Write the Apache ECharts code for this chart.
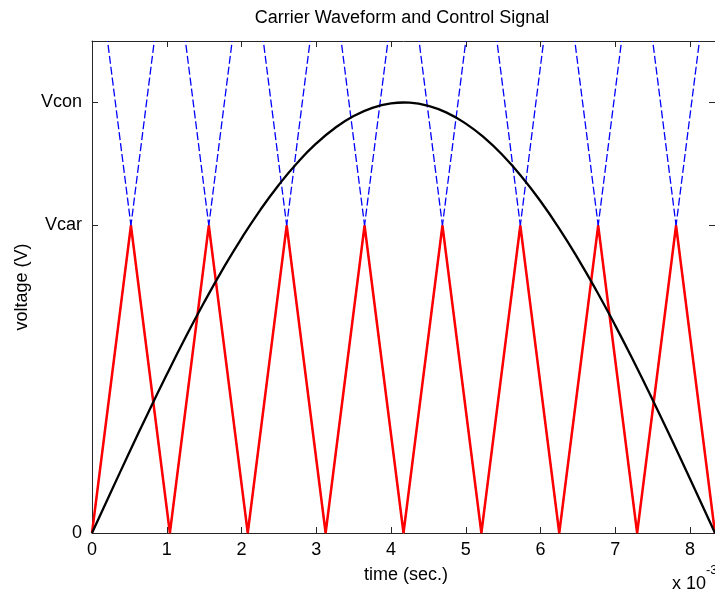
<!DOCTYPE html>
<html>
<head>
<meta charset="utf-8">
<script src="https://cdn.jsdelivr.net/npm/echarts@6/dist/echarts.min.js"></script>
<style>
html,body{margin:0;padding:0;background:#fff;}
#chart{width:715px;height:595px;}
</style>
</head>
<body>
<div id="chart"></div>
<script>
// ---- data (time in ms, i.e. x 10^-3 s) ----
const xTickValues = [0, 1, 2, 3, 4, 5, 6, 7, 8];
const yTickValues = [0, 5, 7];
const yTickLabels = ['0', 'Vcar', 'Vcon'];

// triangular carrier vertices (red)
const carrierT = [0, 0.5208, 1.0417, 1.5625, 2.0833, 2.6042, 3.125, 3.6458, 4.1667,
                  4.6875, 5.2083, 5.7292, 6.25, 6.7708, 7.2917, 7.8125, 8.3333];
const carrierV = [0, 5, 0, 5, 0, 5, 0, 5, 0, 5, 0, 5, 0, 5, 0, 5, 0];

// extended carrier edges (blue dashed): from zero crossing up to top of plot
const edgeStartT = [0, 1.0417, 2.0833, 3.125, 4.1667, 5.2083, 6.25, 7.2917,
                    1.0417, 2.0833, 3.125, 4.1667, 5.2083, 6.25, 7.2917, 8.3333];
const edgeEndT   = [0.8333, 1.875, 2.9167, 3.9583, 5.0, 6.0417, 7.0833, 8.125,
                    0.2083, 1.25, 2.2917, 3.3333, 4.375, 5.4167, 6.4583, 7.5];
const edgeStartV = 0;
const edgeEndV = 8;

// control signal (black)
const controlT = [0, 0.25, 0.5, 0.75, 1.0, 1.25, 1.5, 1.75, 2.0, 2.25, 2.5, 2.75, 3.0,
                  3.25, 3.5, 3.75, 4.0, 4.1667, 4.25, 4.5, 4.75, 5.0, 5.25, 5.5, 5.75,
                  6.0, 6.25, 6.5, 6.75, 7.0, 7.25, 7.5, 7.75, 8.0, 8.25, 8.3333];
const controlV = [0, 0.659, 1.312, 1.953, 2.577, 3.178, 3.751, 4.290, 4.792, 5.251, 5.663,
                  6.025, 6.334, 6.586, 6.780, 6.914, 6.986, 7.0, 6.997, 6.945, 6.831, 6.657,
                  6.424, 6.134, 5.790, 5.394, 4.950, 4.462, 3.935, 3.372, 2.780, 2.163,
                  1.527, 0.877, 0.220, 0];

const FONT = "'Liberation Sans', Arial, Helvetica, sans-serif";
const AX = '#262626';

const chart = echarts.init(document.getElementById('chart'), null, {renderer: 'canvas'});

const series = [];
for (let i = 0; i < edgeStartT.length; i++) {
  series.push({
    type: 'line', silent: true, symbol: 'none', animation: false, z: 2,
    data: [[edgeStartT[i], edgeStartV], [edgeEndT[i], edgeEndV]],
    lineStyle: {color: '#0000ff', width: 1.3, type: [8, 3]}
  });
}
series.push({
  type: 'line', silent: true, symbol: 'none', animation: false, z: 3,
  data: carrierT.map((t, i) => [t, carrierV[i]]),
  lineStyle: {color: '#ff0000', width: 2.5}
});
series.push({
  type: 'line', silent: true, symbol: 'none', animation: false, z: 4, smooth: true,
  data: controlT.map((t, i) => [t, controlV[i]]),
  lineStyle: {color: '#000000', width: 2.3}
});

function xAxisDef(pos, showLabel) {
  return {
    type: 'value', position: pos, min: 0, max: 8.3333,
    axisLine: {show: true, onZero: false, lineStyle: {color: AX, width: 1}},
    axisTick: {show: true, inside: true, length: 6, customValues: xTickValues, lineStyle: {color: AX}},
    axisLabel: {show: showLabel, customValues: xTickValues, margin: 8,
                fontFamily: FONT, fontSize: 18, color: '#000', formatter: v => String(v)},
    splitLine: {show: false}
  };
}
function yAxisDef(pos, showLabel) {
  return {
    type: 'value', position: pos, min: 0, max: 8,
    axisLine: {show: true, onZero: false, lineStyle: {color: AX, width: 1}},
    axisTick: {show: true, inside: true, length: 6, customValues: yTickValues, lineStyle: {color: AX}},
    axisLabel: {show: showLabel, customValues: yTickValues, margin: 10,
                fontFamily: FONT, fontSize: 18, color: '#000',
                formatter: v => { const k = yTickValues.indexOf(v); return k >= 0 ? yTickLabels[k] : ''; }},
    splitLine: {show: false}
  };
}

chart.setOption({
  animation: false,
  backgroundColor: '#ffffff',
  grid: {left: 92, top: 41, right: -2, bottom: 62, show: false, containLabel: false},
  xAxis: [xAxisDef('bottom', true), xAxisDef('top', false)],
  yAxis: [yAxisDef('left', true), yAxisDef('right', false)],
  graphic: [
    {type: 'text', x: 402, y: 18, silent: true,
     style: {text: 'Carrier Waveform and Control Signal', font: '18px ' + FONT, fill: '#000',
             align: 'center', verticalAlign: 'middle'}},
    {type: 'text', x: 406, y: 575, silent: true,
     style: {text: 'time (sec.)', font: '18px ' + FONT, fill: '#000',
             align: 'center', verticalAlign: 'middle'}},
    {type: 'text', x: 22, y: 287, rotation: Math.PI / 2, silent: true,
     style: {text: 'voltage (V)', font: '18px ' + FONT, fill: '#000',
             align: 'center', verticalAlign: 'middle'}},
    {type: 'text', x: 672, y: 584, silent: true,
     style: {text: 'x 10', font: '18px ' + FONT, fill: '#000',
             align: 'left', verticalAlign: 'middle'}},
    {type: 'text', x: 706, y: 570, silent: true,
     style: {text: '-3', font: '13px ' + FONT, fill: '#000',
             align: 'left', verticalAlign: 'middle'}}
  ],
  series: series
});
</script>
</body>
</html>
